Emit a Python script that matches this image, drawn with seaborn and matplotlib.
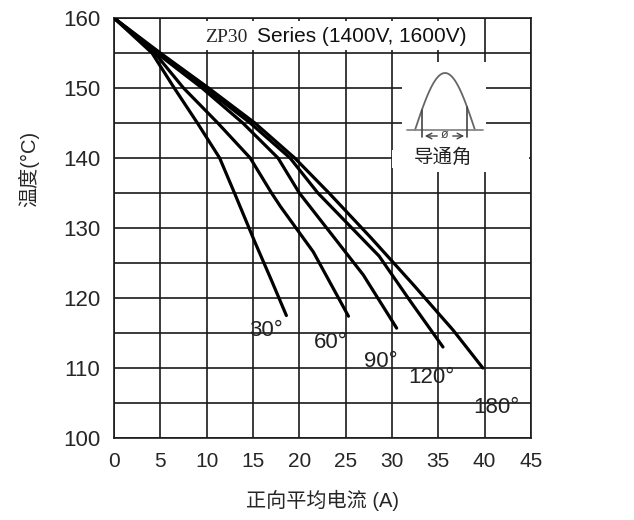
import numpy as np
import pandas as pd
import matplotlib
matplotlib.use("Agg")
import matplotlib.pyplot as plt
from matplotlib.patches import Rectangle
import seaborn as sns

# data: case temperature vs average forward current
angles = ["30°", "60°", "90°", "120°", "180°"]
current_30 = [0, 4.1, 6.5, 9.0, 11.4, 13.0, 15.2, 17.0, 18.6]
temp_30 = [160, 155, 150, 145, 140, 135, 128, 122.5, 117.5]
current_60 = [0, 4.4, 7.5, 11.2, 14.7, 17.0, 18.0, 21.5, 25.3]
temp_60 = [160, 155, 150, 145, 140, 135, 133, 126.6, 117.4]
current_90 = [0, 4.6, 9.5, 13.9, 17.7, 20.0, 26.9, 30.5]
temp_90 = [160, 155, 150, 145, 140, 135, 123.3, 115.7]
current_120 = [0, 4.8, 9.8, 14.7, 19.0, 22.0, 28.6, 32.0, 35.5]
temp_120 = [160, 155, 150, 145, 140, 135, 126, 119.5, 113]
current_180 = [0, 5.0, 10.2, 15.2, 19.5, 23.2, 27.8, 32.3, 36.6, 39.8]
temp_180 = [160, 155, 150, 145, 140, 135, 128.5, 121.9, 115.4, 110]

label_current = [16.4, 23.4, 28.8, 34.2, 41.3]
label_temp = [115.4, 113.6, 110.9, 108.6, 104.3]

x_ticks = list(range(0, 46, 5))
y_ticks = list(range(100, 161, 5))

curves = [(current_30, temp_30), (current_60, temp_60), (current_90, temp_90),
          (current_120, temp_120), (current_180, temp_180)]
df = pd.concat([
    pd.DataFrame({"current": c, "temp": t, "angle": a})
    for a, (c, t) in zip(angles, curves)
], ignore_index=True)

sns.set_style("white")
plt.rcParams["font.family"] = ["Liberation Sans", "Noto Sans CJK SC"]

W, H = 634, 520
fig = plt.figure(figsize=(W / 100, H / 100), dpi=100)
# axes box taken from the grid in the reference (pixels 114..531, 18..438)
ax = fig.add_axes([114 / W, 1 - 438 / H, 417 / W, 420 / H])

sns.lineplot(data=df, x="current", y="temp", hue="angle", palette=["black"] * 5,
             linewidth=2.3, legend=False, sort=False, estimator=None, ax=ax, zorder=3)

ax.set_xlim(0, 45)
ax.set_ylim(100, 160)
ax.set_xticks(x_ticks)
ax.set_xticklabels([str(v) for v in x_ticks], fontsize=15)
ax.set_yticks(y_ticks)
ax.set_yticklabels([str(v) if v % 10 == 0 else "" for v in y_ticks], fontsize=16)
ax.tick_params(length=0, pad=10)
ax.set_axisbelow(True)
ax.grid(True, color="#1a1a1a", linewidth=1.2)
for s in ax.spines.values():
    s.set_color("#1a1a1a")
    s.set_linewidth(1.2)

ax.set_xlabel("正向平均电流 (A)", fontsize=14.5, labelpad=14)
ax.set_ylabel("温度(°C)", fontsize=14.5)
ax.yaxis.set_label_coords(-0.18, 0.64)

for a, xc, yc in zip(angles, label_current, label_temp):
    ax.text(xc, yc, a, fontsize=16, ha="center", va="center", color="#222222")

def px_box(x0, y0, x1, y1):
    # pixel box -> axes fraction rectangle
    return Rectangle(((x0 - 114) / 417, (438 - y1) / 420), (x1 - x0) / 417, (y1 - y0) / 420,
                     transform=ax.transAxes, facecolor="white", edgecolor="none", zorder=1)

# white areas behind the header and the small waveform sketch
ax.add_patch(px_box(200, 21, 474, 50))
ax.add_patch(px_box(402, 62, 486, 172))
ax.add_patch(px_box(392, 150, 529, 168))

ax.text((205 - 114) / 417, (438 - 37) / 420, "ZP30", transform=ax.transAxes,
        fontsize=14, family="Liberation Serif", va="center", ha="left", zorder=4)
ax.text((257 - 114) / 417, (438 - 37) / 420, "Series (1400V, 1600V)", transform=ax.transAxes,
        fontsize=15, va="center", ha="left", color="#111111", zorder=4)

# conduction angle sketch
ins = fig.add_axes([402 / W, 1 - 172 / H, 84 / W, 110 / H])
ins.patch.set_alpha(0)
for s in ins.spines.values():
    s.set_visible(False)
ins.set_xticks([])
ins.set_yticks([])
ins.set_xlim(402, 486)
ins.set_ylim(172, 62)
base_y, peak_h, x_a, x_b = 130, 57, 415, 475
xs = np.linspace(x_a, x_b, 80)
ins.plot(xs, base_y - peak_h * np.sin(np.pi * (xs - x_a) / (x_b - x_a)), color="#666666", lw=1.3)
ins.plot([407, 483], [base_y, base_y], color="#888888", lw=1.3)
for xv in (422, 467):
    yv = base_y - peak_h * np.sin(np.pi * (xv - x_a) / (x_b - x_a))
    ins.plot([xv, xv], [yv, 137], color="#444444", lw=1.2)
ins.annotate("", xy=(422, 136), xytext=(440, 136),
             arrowprops=dict(arrowstyle="->", color="#444444", lw=1))
ins.annotate("", xy=(467, 136), xytext=(450, 136),
             arrowprops=dict(arrowstyle="->", color="#444444", lw=1))
ins.text(445, 135, "ø", fontsize=9, ha="center", va="center", color="#444444")
ins.text(443, 158, "导通角", fontsize=14, ha="center", va="center", color="#222222")

fig.savefig("out.png", dpi=100)
